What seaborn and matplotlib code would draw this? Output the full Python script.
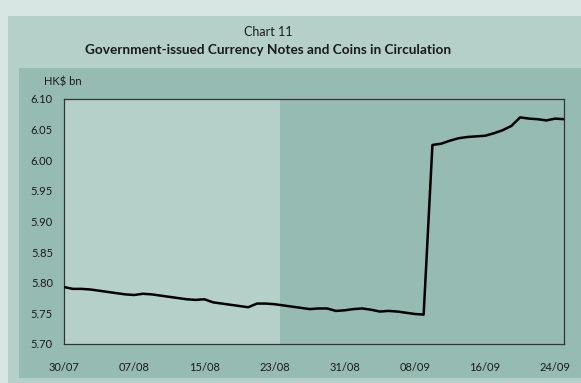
import matplotlib
matplotlib.use("Agg")
import matplotlib.pyplot as plt
from matplotlib.patches import Rectangle
import seaborn as sns
import pandas as pd

# Daily series, day 0 = 30/07
days = list(range(58))
circulation = [
    5.793, 5.790, 5.790, 5.789, 5.787, 5.785, 5.783, 5.781, 5.780, 5.782,
    5.781, 5.779, 5.777, 5.775, 5.773, 5.772, 5.773, 5.768, 5.766, 5.764,
    5.762, 5.760, 5.766, 5.766, 5.765, 5.763, 5.761, 5.759, 5.757, 5.758,
    5.758, 5.754, 5.755, 5.757, 5.758, 5.756, 5.753, 5.754, 5.753, 5.751,
    5.749, 5.748, 6.025, 6.027, 6.032, 6.036, 6.038, 6.039, 6.040, 6.044,
    6.049, 6.056, 6.070, 6.068, 6.067, 6.065, 6.068, 6.067,
]
tick_days = [0, 8, 16, 24, 32, 40, 48, 56]
tick_labels = ["30/07", "07/08", "15/08", "23/08", "31/08", "08/09", "16/09", "24/09"]
y_ticks = [5.70, 5.75, 5.80, 5.85, 5.90, 5.95, 6.00, 6.05, 6.10]
shade_end = 24.6

OUTER = "#d7e6e3"
PANEL = "#b4d0c9"
DARK = "#96bbb2"
TEXT = "#1a1a1a"

sns.set_theme(style="white")
plt.rcParams["font.family"] = ["Lato", "DejaVu Sans"]

W, H = 581, 383
fig = plt.figure(figsize=(W / 100, H / 100), dpi=100, facecolor=OUTER)

# Layered background panels behind the plot
fig.patches.append(Rectangle((8 / W, 0), 1, 1 - 16 / H, transform=fig.transFigure,
                             facecolor=PANEL, edgecolor="none", zorder=-10))
fig.patches.append(Rectangle((19 / W, 5 / H), 1, 1 - 68 / H - 5 / H, transform=fig.transFigure,
                             facecolor=DARK, edgecolor="none", zorder=-9))

ax = fig.add_axes([64 / W, 1 - 344 / H, (564 - 64) / W, (344 - 99) / H])
ax.set_zorder(1)
ax.set_facecolor(DARK)
ax.axvspan(0, shade_end, color=PANEL, lw=0, zorder=0)

df = pd.DataFrame({"day": days, "value": circulation})
sns.lineplot(data=df, x="day", y="value", ax=ax, color="black", lw=1.8, zorder=3)

ax.set_xlim(0, 57)
ax.set_ylim(5.70, 6.10)
ax.set_xticks(tick_days)
ax.set_xticklabels(tick_labels)
ax.set_yticks(y_ticks)
ax.set_yticklabels([f"{v:.2f}" for v in y_ticks])
ax.set_xlabel("")
ax.set_ylabel("")
ax.tick_params(axis="both", which="both", direction="out", length=5, width=0.9,
               color="#333333", labelsize=8, labelcolor=TEXT)
ax.tick_params(axis="x", pad=8)
ax.tick_params(axis="y", pad=3)
for s in ax.spines.values():
    s.set_visible(True)
    s.set_color("#333333")
    s.set_linewidth(0.9)
ax.grid(False)

fig.text(44 / W, 1 - 82 / H, "HK$ bn", fontsize=8, color=TEXT, va="center", ha="left")
fig.text(268 / W, 1 - 32 / H, "Chart 11", fontsize=9, color=TEXT, ha="center", va="center")
fig.text(268 / W, 1 - 50 / H, "Government-issued Currency Notes and Coins in Circulation",
         fontsize=9.8, fontweight="bold", color=TEXT, ha="center", va="center")

fig.savefig("out.png", dpi=100, facecolor=OUTER)
